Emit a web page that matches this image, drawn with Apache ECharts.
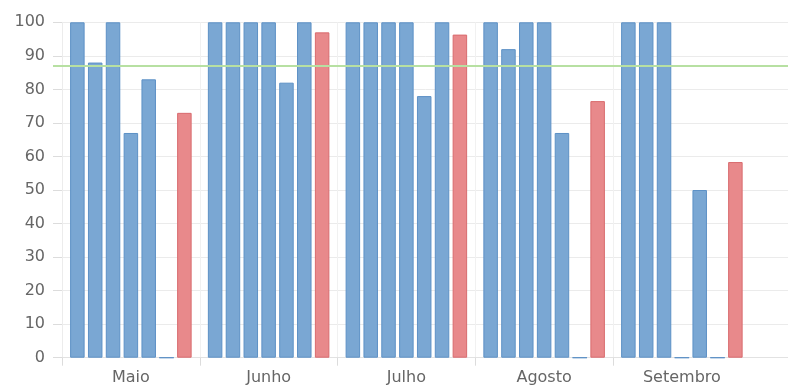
<!DOCTYPE html>
<html>
<head>
<meta charset="utf-8">
<script src="https://cdn.jsdelivr.net/npm/echarts@6/dist/echarts.min.js"></script>
<style>
  html, body { margin: 0; padding: 0; background: #fff; }
  #chart { width: 788px; height: 386px; }
</style>
</head>
<body>
<div id="chart"></div>
<script>
// Months on the category axis (a trailing empty slot keeps the plot running to the right edge)
const months = ['Maio', 'Junho', 'Julho', 'Agosto', 'Setembro', ''];

// Six indicators per month, in percent
const ind1 = [100, 100, 100, 100, 100];
const ind2 = [88, 100, 100, 92, 100];
const ind3 = [100, 100, 100, 100, 100];
const ind4 = [67, 100, 100, 100, 0];
const ind5 = [83, 82, 78, 67, 50];
const ind6 = [0, 100, 100, 0, 0];

// Monthly average of the six indicators
const media = [73, 97, 96.33, 76.5, 58.33];

// Target line
const meta = 87;

// Y-axis ticks
const yMin = 0, yMax = 100, yStep = 10;

const blue = { color: '#7aa7d3', borderColor: '#5d91c6', borderWidth: 1 };
const red = { color: '#e8898b', borderColor: '#d96b6e', borderWidth: 1 };

const FONT = 'DejaVu Sans';
const textColor = '#666';
const gridColor = '#ebebeb';

function barSeries(name, data, style) {
  return {
    name: name,
    type: 'bar',
    data: data,
    barWidth: 14.5,
    barGap: '23%',
    itemStyle: style,
    emphasis: { disabled: true },
    animation: false
  };
}

const series = [
  barSeries('Indicador 1', ind1, blue),
  barSeries('Indicador 2', ind2, blue),
  barSeries('Indicador 3', ind3, blue),
  barSeries('Indicador 4', ind4, blue),
  barSeries('Indicador 5', ind5, blue),
  barSeries('Indicador 6', ind6, blue),
  barSeries('Média', media, red)
];

// Target line drawn on the first series
series[0].markLine = {
  silent: true,
  symbol: ['none', 'none'],
  label: { show: false },
  lineStyle: { color: '#b7e0a2', width: 2, type: 'solid' },
  animation: false,
  data: [[{ yAxis: meta, x: 53 }, { yAxis: meta, x: '100%' }]]
};

const chart = echarts.init(document.getElementById('chart'), null, { renderer: 'canvas' });
chart.setOption({
  animation: false,
  grid: {
    left: 62, width: 826.5, top: 22.3, height: 335.4,
    containLabel: false, outerBoundsMode: 'none'
  },
  xAxis: {
    type: 'category',
    data: months,
    axisLine: { show: true, lineStyle: { color: '#e2e2e2', width: 1 } },
    axisTick: {
      show: true, length: 8,
      interval: function (i) { return i < 5; },
      lineStyle: { color: '#dcdcdc' }
    },
    splitLine: {
      show: true,
      interval: function (i) { return i < 5; },
      lineStyle: { color: '#f1f1f1' }
    },
    axisLabel: { color: textColor, fontFamily: FONT, fontSize: 16, margin: 12 }
  },
  yAxis: {
    type: 'value',
    min: yMin, max: yMax, interval: yStep,
    axisLine: { show: true, lineStyle: { color: '#ececec' } },
    axisTick: { show: true, length: 9, lineStyle: { color: '#dcdcdc' } },
    splitLine: { show: true, lineStyle: { color: gridColor } },
    axisLabel: { color: textColor, fontFamily: FONT, fontSize: 16, margin: 17 }
  },
  series: series
});
</script>
</body>
</html>
